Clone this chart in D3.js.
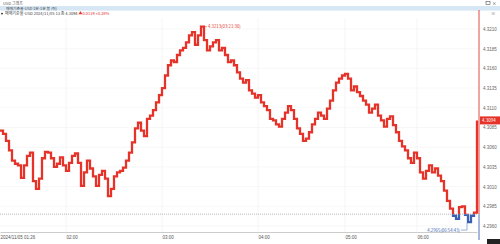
<!DOCTYPE html>
<html>
<head>
<meta charset="utf-8">
<script src="https://cdn.jsdelivr.net/npm/d3@7"></script>
<style>
  body { margin: 0; background: #fff; }
  svg { display: block; font-family: "Noto Sans CJK KR", "Noto Sans", sans-serif; }
</style>
</head>
<body>
<div id="chart"></div>
<script>
// size of the page
const width = 500;
const height = 244;
const margin = {left: 0, right: 22, top: 29, bottom: 18};

// price per bar (1-minute bars)
const prices = [
  4.3081, 4.3077, 4.3068, 4.3056, 4.3043, 4.3039, 4.3037, 4.3021, 4.3037, 4.3049,
  4.3053, 4.3017, 4.3007, 4.3020, 4.3046, 4.3054, 4.3053, 4.3046, 4.3035, 4.3039,
  4.3047, 4.3037, 4.3030, 4.3040, 4.3049, 4.3052, 4.3040, 4.3011, 4.3028, 4.3043,
  4.3033, 4.3023, 4.3011, 4.3025, 4.3030, 4.3020, 4.2998, 4.3007, 4.3023, 4.3028,
  4.3030, 4.3034, 4.3043, 4.3053, 4.3066, 4.3084, 4.3091, 4.3081, 4.3074, 4.3096,
  4.3100, 4.3107, 4.3117, 4.3126, 4.3135, 4.3151, 4.3164, 4.3170, 4.3168, 4.3177,
  4.3183, 4.3186, 4.3193, 4.3202, 4.3206, 4.3190, 4.3202, 4.3213, 4.3196, 4.3183,
  4.3188, 4.3193, 4.3196, 4.3183, 4.3186, 4.3177, 4.3168, 4.3170, 4.3164, 4.3155,
  4.3147, 4.3142, 4.3145, 4.3132, 4.3128, 4.3123, 4.3126, 4.3117, 4.3112, 4.3107,
  4.3096, 4.3094, 4.3089, 4.3086, 4.3096, 4.3104, 4.3112, 4.3107, 4.3096, 4.3084,
  4.3077, 4.3068, 4.3071, 4.3079, 4.3089, 4.3096, 4.3104, 4.3100, 4.3096, 4.3109,
  4.3119, 4.3132, 4.3142, 4.3147, 4.3151, 4.3153, 4.3147, 4.3132, 4.3137, 4.3130,
  4.3125, 4.3119, 4.3114, 4.3104, 4.3109, 4.3114, 4.3100, 4.3094, 4.3086, 4.3096,
  4.3099, 4.3088, 4.3079, 4.3068, 4.3061, 4.3056, 4.3046, 4.3040, 4.3053, 4.3046,
  4.3028, 4.3020, 4.3030, 4.3037, 4.3028, 4.3033, 4.3024, 4.3017, 4.3005, 4.2992,
  4.2982, 4.2973, 4.2969, 4.2984, 4.2985, 4.2974, 4.2965, 4.2973, 4.2977, 4.3094
];

// previous close (dotted line), colours switch at this level
const refPrice = 4.2975;

// y ticks
const yTicks = [4.2960, 4.2985, 4.3010, 4.3035, 4.3060, 4.3085, 4.3110, 4.3135, 4.3160, 4.3185, 4.3210];

// x ticks: bar index and label
const xTickIdx = [0, 22, 54, 86, 115, 139];
const xTickLabels = ["2024/11/05 01:26", "02:00", "03:00", "04:00", "05:00", "06:00"];

// high / low labels
const highIdx = 67, highLabel = "4.3213(03:21:30)";
const lowIdx = 156, lowLabel = "4.2965(06:54:43)";

const red = "#e5332a";
const blue = "#3b5fb4";

const svg = d3.select("#chart")
  .append("svg")
  .attr("width", width)
  .attr("height", height);

// scales
const xScale = d3.scaleLinear()
  .domain([0, prices.length - 1])
  .range([margin.left, width - margin.right - 1]);

const yScale = d3.scaleLinear()
  .domain([4.2960, 4.3210])
  .range([226, margin.top]);

const plotRight = width - margin.right;
const plotBottom = 232;
const refY = yScale(refPrice);

// header bits
svg.append("text").attr("x", 3).attr("y", 4.6).attr("font-size", 4).attr("fill", "#555").text("USD 그래프");
svg.append("rect").attr("x", 0).attr("y", 6).attr("width", width).attr("height", 4.6).attr("fill", "#d6e6f5");
svg.append("text").attr("x", 6).attr("y", 9.6).attr("font-size", 3.8).attr("fill", "#444").text("매매기준율-USD      1분-1분 봉 (틱)");
svg.append("rect").attr("x", 486).attr("y", 1.5).attr("width", 4).attr("height", 3).attr("fill", "none").attr("stroke", "#555").attr("stroke-width", 0.6);
svg.append("text").attr("x", 492).attr("y", 4.8).attr("font-size", 4.5).attr("fill", "#555").text("×");
svg.append("text").attr("x", 491).attr("y", 15).attr("font-size", 4.5).attr("fill", "#666").text("≡");

svg.append("circle").attr("cx", 2).attr("cy", 13.6).attr("r", 0.9).attr("fill", "#222");
const info = svg.append("text").attr("x", 5).attr("y", 15.2).attr("font-size", 4);
info.append("tspan").attr("fill", "#444").text("매매기준율-USD  2024/11/05 13 종 4.3094 ");
info.append("tspan").attr("fill", red).text("▲0.0119  +0.28%");

// grid
svg.append("g")
  .selectAll("line")
  .data(yTicks)
  .join("line")
    .attr("x1", margin.left)
    .attr("x2", plotRight)
    .attr("y1", d => yScale(d))
    .attr("y2", d => yScale(d))
    .attr("stroke", "#f1f1f1")
    .attr("stroke-width", 0.6);

svg.append("g")
  .selectAll("line")
  .data(xTickIdx.slice(1))
  .join("line")
    .attr("x1", d => xScale(d))
    .attr("x2", d => xScale(d))
    .attr("y1", 18)
    .attr("y2", plotBottom)
    .attr("stroke", "#eeeeee")
    .attr("stroke-width", 0.6);

// x axis
const xAxis = svg.append("g")
  .attr("transform", `translate(0,${plotBottom})`)
  .call(d3.axisBottom(xScale).tickValues(xTickIdx).tickSize(0).tickFormat((d, i) => xTickLabels[i]));
xAxis.select(".domain").attr("stroke", "#aaa").attr("stroke-width", 0.6);
xAxis.selectAll("text")
  .attr("font-size", 4.5)
  .attr("fill", "#555")
  .attr("text-anchor", "start")
  .attr("dy", 0)
  .attr("y", 6.5);

// y axis on the right
const yAxis = svg.append("g")
  .attr("transform", `translate(${plotRight + 1},0)`)
  .call(d3.axisRight(yScale).tickValues(yTicks).tickSize(0).tickFormat(d3.format(".4f")));
yAxis.select(".domain").remove();
yAxis.selectAll("text").attr("font-size", 4.5).attr("fill", "#666").attr("x", 4);

// reference dotted line
svg.append("line")
  .attr("x1", margin.left)
  .attr("x2", plotRight)
  .attr("y1", refY)
  .attr("y2", refY)
  .attr("stroke", "#999")
  .attr("stroke-width", 0.7)
  .attr("stroke-dasharray", "1,1");

// clip above and below the reference
const defs = svg.append("defs");
defs.append("clipPath").attr("id", "above")
  .append("rect").attr("x", 0).attr("y", 0).attr("width", width).attr("height", refY);
defs.append("clipPath").attr("id", "below")
  .append("rect").attr("x", 0).attr("y", refY).attr("width", width).attr("height", height - refY);

const line = d3.line()
  .x((d, i) => xScale(i))
  .y(d => yScale(d))
  .curve(d3.curveStepAfter);

svg.append("path")
  .datum(prices)
  .attr("d", line)
  .attr("fill", "none")
  .attr("stroke", red)
  .attr("stroke-width", 2.3)
  .attr("clip-path", "url(#above)");

svg.append("path")
  .datum(prices)
  .attr("d", line)
  .attr("fill", "none")
  .attr("stroke", blue)
  .attr("stroke-width", 2.3)
  .attr("clip-path", "url(#below)");

// right border coloured by reference
svg.append("line")
  .attr("x1", plotRight + 1).attr("x2", plotRight + 1)
  .attr("y1", 10).attr("y2", refY)
  .attr("stroke", red).attr("stroke-width", 0.9);
svg.append("line")
  .attr("x1", plotRight + 1).attr("x2", plotRight + 1)
  .attr("y1", refY).attr("y2", 240)
  .attr("stroke", blue).attr("stroke-width", 0.9);

// current value box
const last = prices[prices.length - 1];
svg.append("rect")
  .attr("x", plotRight + 2)
  .attr("y", yScale(last) - 4)
  .attr("width", 20)
  .attr("height", 8)
  .attr("fill", red);
svg.append("text")
  .attr("x", plotRight + 4)
  .attr("y", yScale(last) + 1.6)
  .attr("font-size", 4.5)
  .attr("fill", "#fff")
  .text(d3.format(".4f")(last));

// high label
svg.append("line")
  .attr("x1", xScale(highIdx) + 2).attr("x2", xScale(highIdx) + 6)
  .attr("y1", yScale(prices[highIdx])).attr("y2", yScale(prices[highIdx]))
  .attr("stroke", red).attr("stroke-width", 0.5);
svg.append("text")
  .attr("x", xScale(highIdx) + 7)
  .attr("y", yScale(prices[highIdx]) + 1.5)
  .attr("font-size", 4.3)
  .attr("fill", red)
  .text(highLabel);

// low label
const lowY = yScale(prices[lowIdx]) + 8;
svg.append("polyline")
  .attr("points", `${xScale(lowIdx) - 7},${lowY} ${xScale(lowIdx) - 1},${lowY} ${xScale(lowIdx) - 1},${yScale(prices[lowIdx]) + 1}`)
  .attr("fill", "none")
  .attr("stroke", blue).attr("stroke-width", 0.5);
svg.append("text")
  .attr("x", xScale(lowIdx) - 8)
  .attr("y", lowY + 1.5)
  .attr("font-size", 4.3)
  .attr("text-anchor", "end")
  .attr("fill", blue)
  .text(lowLabel);

// corner box bottom right
svg.append("rect").attr("x", 487).attr("y", 239).attr("width", 13).attr("height", 5).attr("fill", "#222");
</script>
</body>
</html>
